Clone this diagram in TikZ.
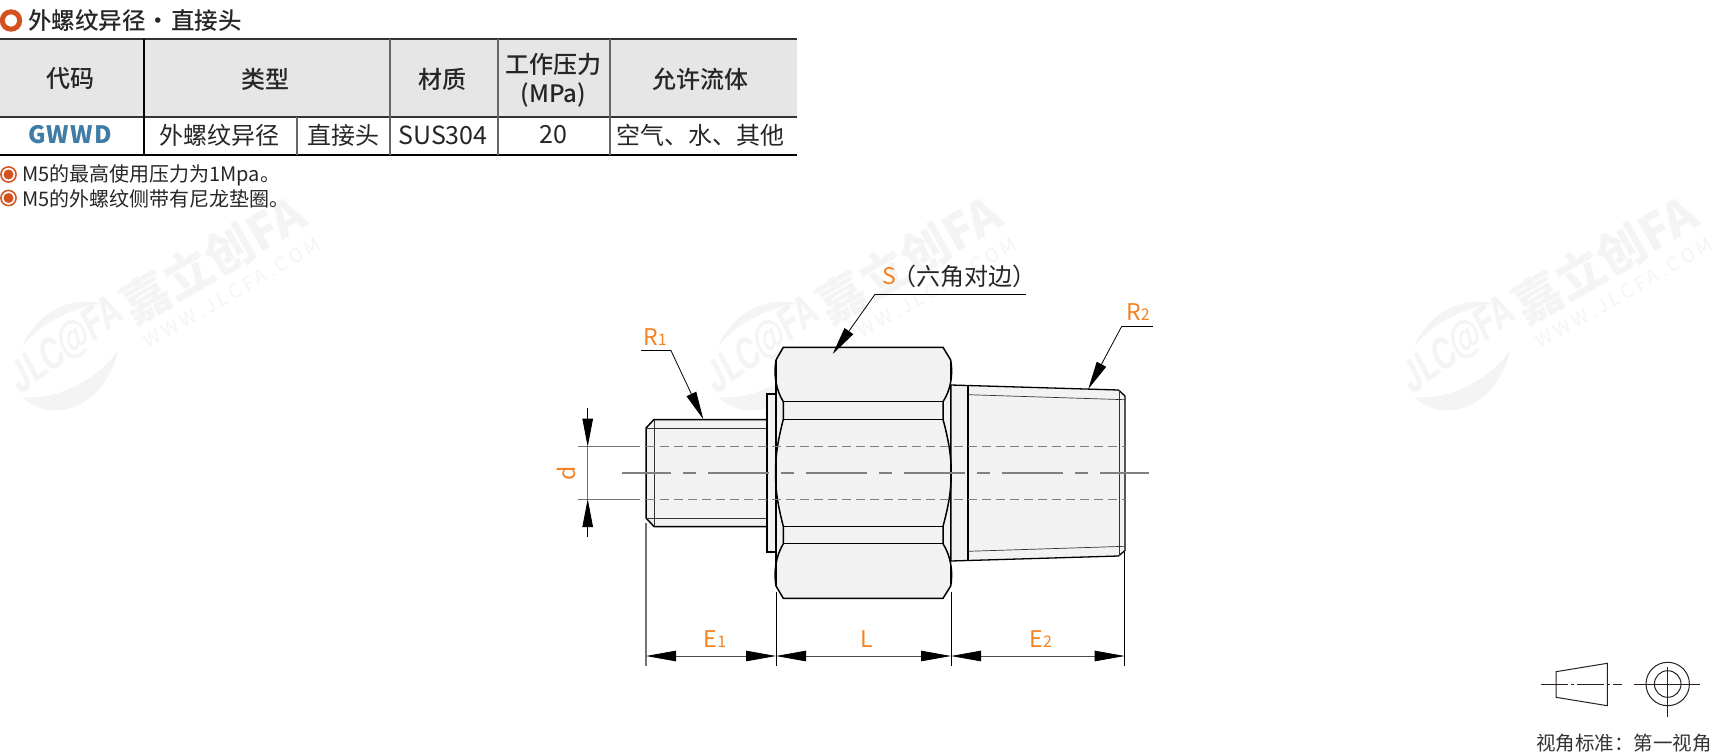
\documentclass[tikz,border=0pt]{standalone}
\usepackage{fontspec}
\setmainfont{Noto Sans CJK SC}
\newfontfamily\mediumfont{Noto Sans CJK SC Medium}
\newfontfamily\logofont{TeX Gyre Heros}
\usetikzlibrary{arrows.meta}

\definecolor{ringred}{HTML}{D4521F}
\definecolor{labelorange}{HTML}{F58220}
\definecolor{codeblue}{HTML}{3F7CA6}
\definecolor{headgray}{HTML}{E6E6E6}
\definecolor{bodygray}{HTML}{F2F2F2}
\definecolor{markgray}{HTML}{F4F4F4}
\definecolor{symbolink}{HTML}{2A2020}

\newcommand{\fsize}[1]{\fontsize{#1}{#1}\selectfont}

\tikzset{
  headtext/.style={inner sep=0pt, font=\mediumfont\fsize{24}, text=black!85},
  celltext/.style={inner sep=0pt, font=\fsize{24}, text=black!85},
  notetext/.style={inner sep=0pt, anchor=west, font=\fsize{20}, text=black!85},
  dimtext/.style={inner sep=0pt, font=\fsize{23}, text=labelorange},
  outline/.style={draw=black, fill=bodygray, line width=1.5pt},
  thick line/.style={draw=black, line width=1.5pt},
  thin line/.style={draw=black!80, line width=0.7pt},
  symbol line/.style={draw=symbolink, line width=1pt},
  hidden/.style={draw=black!50, line width=1pt, dash pattern=on 8.5pt off 5.5pt},
  centre/.style={draw=black!50, line width=1.1pt, dash pattern=on 61pt off 12pt on 13pt off 12pt, dash phase=12pt},
  extline/.style={draw=black!55, line width=1pt},
  tipline/.style={draw=black, line width=0.8pt, -{Triangle[length=28pt, width=10.5pt]}},
  dimline/.style={draw=black!70, line width=0.8pt, {Triangle[length=30pt, width=10.5pt, black]}-{Triangle[length=30pt, width=10.5pt, black]}}
}

% one copy of the pale company mark
\newcommand{\wmark}[2]{
  \begin{scope}[xshift=#1pt, name prefix=#2-]
    \fill[markgray] (21.7,346.7) .. controls (36,315) and (66,296) .. (101,303) .. controls (66,310) and (40,325) .. cycle;
    \fill[markgray] (21.7,396.7) .. controls (50,425) and (105,410) .. (118,350) .. controls (100,378) and (55,402) .. cycle;
    \node[inner sep=0pt, rotate=36, xscale=.75, text=markgray, font=\logofont\fsize{42}\bfseries\itshape] (logo) at (66,346) {JLC@FA};
    \node[inner sep=0pt, rotate=30, text=markgray, font=\fsize{48}\bfseries] (title) at (213,259) {嘉立创FA};
    \node[inner sep=0pt, rotate=30, text=markgray, font=\fsize{19}\addfontfeatures{LetterSpace=20}] (site) at (232,293) {WWW.JLCFA.COM};
  \end{scope}
}

\begin{document}
\begin{tikzpicture}[x=1pt, y=-1pt]
    \useasboundingbox (0,0) rectangle (1713,755);

    % draw watermarks
    \wmark{0}{wa}
    \wmark{696}{wb}
    \wmark{1392}{wc}

    % draw heading
    \draw[ringred, line width=5pt] (11,20.5) circle (8.7);
    \node[inner sep=0pt, anchor=west, font=\mediumfont\fsize{23.5}, text=black!85] (heading) at (28,21) {外螺纹异径\hspace{1pt}·\hspace{1pt}直接头};

    % draw table background and rules
    \fill[headgray] (0,39) rectangle (797,117);
    \draw[black!80, line width=2.4pt] (0,39) -- (797,39);
    \draw[black!80, line width=2.4pt] (0,117) -- (797,117);
    \draw[black, line width=2.8pt] (0,155) -- (797,155);
    \draw[black, line width=2pt] (144,39) -- (144,155);
    \draw[black!60, line width=1.5pt] (390,39) -- (390,155);
    \draw[black!60, line width=1.5pt] (498,39) -- (498,155);
    \draw[black!60, line width=1.5pt] (610,39) -- (610,155);
    \draw[black!60, line width=1.5pt] (297,117) -- (297,155);

    % table header
    \node[headtext] (hcode) at (70,79) {代码};
    \node[headtext] (htype) at (265,79) {类型};
    \node[headtext] (hmat) at (442,79) {材质};
    \node[headtext] (hpress) at (553.5,64) {工作压力};
    \node[headtext] (hunit) at (553.5,95) {(MPa)};
    \node[headtext] (hfluid) at (700,79) {允许流体};

    % table row
    \node[celltext, text=codeblue, font=\fsize{24}\bfseries\addfontfeatures{LetterSpace=5}] (rcode) at (70,135) {GWWD};
    \node[celltext] (rtypea) at (219.5,135) {外螺纹异径};
    \node[celltext] (rtypeb) at (343,135) {直接头};
    \node[celltext, font=\fsize{25}] (rmat) at (443,135) {SUS304};
    \node[celltext, font=\fsize{25}] (rpress) at (553,135) {20};
    \node[celltext] (rfluid) at (700,135) {空气、水、其他};

    % notes
    \draw[ringred, line width=1.5pt] (8.5,174.5) circle (7.6);
    \fill[ringred] (8.5,174.5) circle (5);
    \node[notetext] (notea) at (22,175.5) {M5的最高使用压力为1Mpa。};
    \draw[ringred, line width=1.5pt] (8.5,198) circle (7.6);
    \fill[ringred] (8.5,198) circle (5);
    \node[notetext] (noteb) at (22,199) {M5的外螺纹侧带有尼龙垫圈。};

    % draw left stud and flange
    \draw[outline] (767,419.5) -- (654,419.5) -- (646,428) -- (646,518) -- (654,526.5) -- (767,526.5);
    \draw[thin line] (654,419.5) -- (654,526.5);
    \draw[thin line] (646,428) -- (767,428);
    \draw[thin line] (646,518) -- (767,518);
    \draw[outline, line width=1.2pt] (767,394) rectangle (776,552);

    % draw right taper and collar
    \draw[outline, line width=1.3pt] (951,385) -- (968,385.5) -- (1118.5,390) -- (1125,396) -- (1125,550.5) -- (1118.5,556) -- (968,560.5) -- (951,561) -- cycle;
    \draw[thick line] (968,385.5) -- (968,560.5);
    \draw[thin line] (968,394.7) -- (1125,399.7);
    \draw[thin line] (968,551.3) -- (1125,546.3);
    \draw[thin line] (1119,390) -- (1119,556);

    % draw hexagon nut
    \fill[bodygray] (783.3,347.3) -- (943,347.3) -- (950.7,360) -- (950.7,586) -- (943,598.3) -- (783.3,598.3) -- (776,586) -- (776,360) -- cycle;
    \draw[thick line] (776,360) -- (783.3,347.3) -- (943,347.3) -- (950.7,360);
    \draw[thick line] (776,586) -- (783.3,598.3) -- (943,598.3) -- (950.7,586);
    \draw[black, line width=1.1pt] (776,360) -- (776,586);
    \draw[black, line width=1.1pt] (950.7,360) -- (950.7,586);
    \draw[thick line] (776,360) .. controls (773.5,375) and (776,390) .. (783.3,401.7) -- (783.3,419.3)
        .. controls (778,440) and (775.5,455) .. (775.5,473) .. controls (775.5,491) and (778,506) .. (783.3,526.3)
        -- (783.3,543.7) .. controls (776,556) and (773.5,571) .. (776,586);
    \draw[thick line] (950.7,360) .. controls (953.2,375) and (950.7,390) .. (943,401.7) -- (943,419.3)
        .. controls (948.5,440) and (951.2,455) .. (951.2,473) .. controls (951.2,491) and (948.5,506) .. (943,526.3)
        -- (943,543.7) .. controls (950.7,556) and (953.2,571) .. (950.7,586);
    \draw[thick line] (783.3,401.7) -- (943,401.7);
    \draw[thick line] (783.3,419.3) -- (943,419.3);
    \draw[thick line] (783.3,526.3) -- (943,526.3);
    \draw[thick line] (783.3,543.7) -- (943,543.7);

    % draw hidden bore and centre line
    \draw[hidden] (646,446.7) -- (1125,446.7);
    \draw[hidden, line width=0.8pt] (646,499) -- (1125,499);
    \draw[centre] (621.7,473) -- (1149,473);

    % draw d dimension
    \coordinate (dtop) at (587.7,446.7);
    \coordinate (dbot) at (587.7,499);
    \draw[extline] (577.7,446.7) -- (640,446.7);
    \draw[extline] (577.7,499) -- (640,499);
    \draw[tipline] (587.7,408) -- (dtop);
    \draw[tipline] (587.7,537) -- (dbot);
    \draw[extline] (dtop) -- (dbot);
    \node[dimtext, rotate=90] (dlabel) at (566.7,473) {d};

    % draw length dimensions
    \coordinate (ea) at (646,656);
    \coordinate (eb) at (776,656);
    \coordinate (ec) at (951,656);
    \coordinate (ed) at (1124.7,656);
    \draw[extline, line width=1.2pt] (646,523.3) -- (646,665.7);
    \draw[thin line, black] (776,591.7) -- (776,665.7);
    \draw[thin line, black] (951,591.7) -- (951,665.7);
    \draw[thin line, black] (1124.7,551.7) -- (1124.7,665.7);
    \draw[dimline] (ea) -- (eb);
    \draw[dimline] (eb) -- (ec);
    \draw[dimline] (ec) -- (ed);
    \node[dimtext] (elabela) at (715,639) {E{\fsize{16}1}};
    \node[dimtext] (llabel) at (867,639) {L};
    \node[dimtext] (elabelb) at (1040.7,639) {E{\fsize{16}2}};

    % draw leaders
    \draw[thin line, black] (640.7,350) -- (670.7,350);
    \draw[tipline] (670.7,350) -- (703.3,419.3);
    \node[dimtext] (rlabela) at (655,337) {R{\fsize{16}1}};
    \draw[thin line, black] (1153.3,326.3) -- (1121.7,326.3);
    \draw[tipline] (1121.7,326.3) -- (1088.3,389);
    \node[dimtext] (rlabelb) at (1138,311.7) {R{\fsize{16}2}};
    \draw[thin line, black] (1026,294.3) -- (875,294.3);
    \draw[tipline] (875,294.3) -- (832.7,354);
    \node[dimtext] (slabel) at (889,276) {S};
    \node[inner sep=0pt, font=\fsize{24}, text=black!85] (stext) at (964,276) {（六角对边）};

    % draw projection symbol
    \draw[symbol line] (1556,671.7) -- (1607.3,663.3) -- (1607.3,705.7) -- (1556,697.3) -- cycle;
    \draw[symbol line, dash pattern=on 27pt off 3pt on 3pt off 3pt] (1541,684) -- (1622.3,684);
    \draw[symbol line] (1667.7,684) circle (21.7);
    \draw[symbol line] (1667.7,684) circle (13.3);
    \draw[symbol line] (1634.3,684) -- (1700.3,684);
    \draw[symbol line] (1667.7,667) -- (1667.7,717.3);
    \node[inner sep=0pt, font=\fsize{19.5}, text=black!80] (viewtext) at (1624,743) {视角标准：第一视角};
\end{tikzpicture}
\end{document}
